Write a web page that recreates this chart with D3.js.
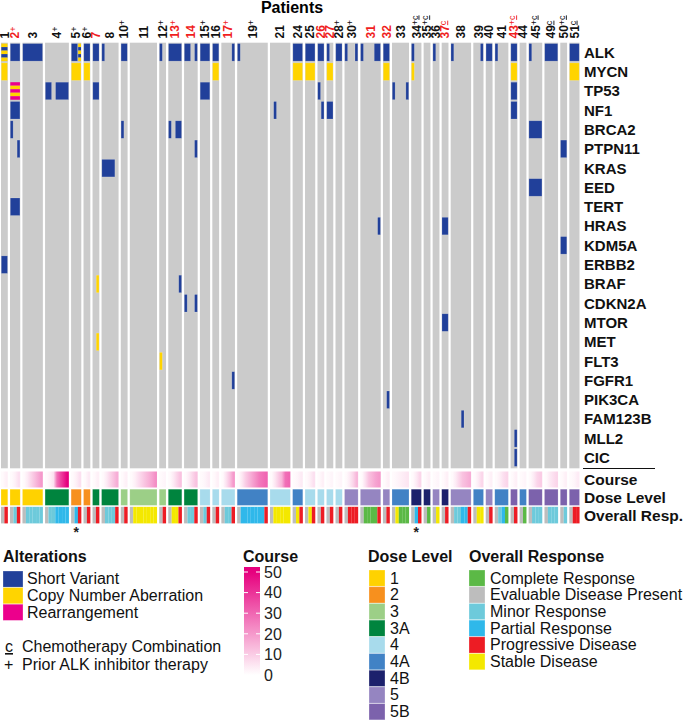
<!DOCTYPE html>
<html><head><meta charset="utf-8">
<script src="https://cdn.jsdelivr.net/npm/d3@7"></script>
<style>
body{margin:0;background:#fff;}
text{font-family:"Liberation Sans",Arial,Helvetica,sans-serif;}
</style>
</head><body>
<svg id="c" width="685" height="722"></svg>
<script>
// ---------------- DATA ----------------
const patients = ["1","2","3","4","5","6","7","8","10","11","12","13","14","15","16","17","19","21","24","25","26","27","28","30","31","32","33","34","35","36","37","38","39","40","41","43","44","45","49","50","51"];
const redLabels = ["2","7","13","14","17","26","27","31","32","37","43"];
const priorALK = ["2","4","5","6","10","12","13","15","17","19","28","30","34","35","43","45","50"];
const chemoCombo = ["34","35","37","43","45","49","50","51"];
const starred = ["5","34"];
// number of assessment slots per patient (column span)
const assessments = [2,3,6,7,3,2,2,5,2,8,2,4,4,3,2,4,9,6,3,3,2,2,2,4,6,2,5,3,2,2,2,6,3,2,4,2,2,4,4,2,3];
const genes = ["ALK","MYCN","TP53","NF1","BRCA2","PTPN11","KRAS","EED","TERT","HRAS","KDM5A","ERBB2","BRAF","CDKN2A","MTOR","MET","FLT3","FGFR1","PIK3CA","FAM123B","MLL2","CIC"];
// [gene, patient, fromSlot, toSlot, type]
const alterations = [
 ["ALK","1",0,2,"CNA+SV"],["ALK","2",0,3,"SV"],["ALK","3",0,6,"SV"],["ALK","5",0,2,"SV"],["ALK","5",2,3,"CNA+SV"],
 ["ALK","6",0,2,"SV"],["ALK","7",0,2,"SV"],["ALK","8",0,1,"SV"],["ALK","10",0,2,"SV"],["ALK","12",0,1,"SV"],
 ["ALK","13",0,4,"SV"],["ALK","14",0,2,"SV"],["ALK","14",3,4,"SV"],["ALK","15",0,3,"SV"],["ALK","16",0,2,"SV"],
 ["ALK","17",3,4,"SV"],["ALK","19",0,1,"SV"],["ALK","24",0,3,"SV"],["ALK","25",0,3,"SV"],["ALK","26",0,2,"SV"],
 ["ALK","27",0,1,"SV"],["ALK","28",0,2,"SV"],["ALK","30",0,1,"SV"],["ALK","30",3,4,"SV"],["ALK","31",0,1,"SV"],
 ["ALK","31",4,6,"SV"],["ALK","32",0,2,"SV"],["ALK","34",0,1,"SV"],["ALK","36",0,1,"SV"],["ALK","38",0,1,"SV"],
 ["ALK","39",2,3,"SV"],["ALK","40",0,2,"SV"],["ALK","41",0,1,"SV"],["ALK","43",0,2,"SV"],["ALK","45",0,1,"SV"],
 ["ALK","49",0,4,"SV"],["ALK","51",0,3,"SV"],
 ["MYCN","1",0,2,"CNA"],["MYCN","5",0,3,"CNA"],["MYCN","6",0,2,"CNA"],["MYCN","16",0,2,"CNA"],["MYCN","24",0,3,"CNA"],
 ["MYCN","25",0,3,"CNA"],["MYCN","27",0,2,"CNA"],["MYCN","32",0,2,"CNA"],["MYCN","34",0,1,"CNA"],["MYCN","43",0,2,"CNA"],
 ["MYCN","51",0,3,"CNA"],
 ["TP53","2",0,3,"RE+CNA"],["TP53","4",0,2,"SV"],["TP53","4",3,7,"SV"],["TP53","7",0,2,"SV"],["TP53","15",0,3,"SV"],
 ["TP53","26",0,1,"SV"],["TP53","33",0,1,"SV"],["TP53","33",4,5,"SV"],["TP53","43",0,2,"SV"],
 ["NF1","2",0,3,"SV"],["NF1","21",1,2,"SV"],["NF1","26",1,2,"SV"],["NF1","27",0,2,"SV"],["NF1","43",0,2,"SV"],
 ["BRCA2","2",0,1,"SV"],["BRCA2","10",0,1,"SV"],["BRCA2","13",0,1,"SV"],["BRCA2","13",2,4,"SV"],["BRCA2","45",0,4,"SV"],
 ["PTPN11","2",2,3,"SV"],["PTPN11","14",3,4,"SV"],["PTPN11","50",0,2,"SV"],
 ["KRAS","8",0,4,"SV"],["EED","45",0,4,"SV"],["TERT","2",0,3,"SV"],
 ["HRAS","31",5,6,"SV"],["HRAS","37",0,2,"SV"],["KDM5A","50",0,2,"SV"],["ERBB2","1",0,2,"SV"],
 ["BRAF","7",1,2,"CNA"],["BRAF","13",3,4,"SV"],["CDKN2A","14",0,1,"SV"],["CDKN2A","14",3,4,"SV"],
 ["MTOR","37",0,2,"SV"],["MET","7",1,2,"CNA"],["FLT3","12",0,1,"CNA"],["FGFR1","17",3,4,"SV"],
 ["PIK3CA","32",1,2,"SV"],["FAM123B","38",3,4,"SV"],["MLL2","43",1,2,"SV"],["CIC","43",1,2,"SV"]
];
// course number at each assessment slot
const courses = [
 [1,3],[1,3,6],[1,4,8,12,16,20],[1,3,6,28,36,43,50],[1,3,6],[1,4],[1,3],[1,4,8,12,16],[1,3],[1,3,6,9,12,15,18,22],
 [1,2],[1,4,8,12],[1,4,8,12],[1,2,4],[1,3],[1,6,12,20],[1,5,10,14,18,22,26,28,30],[1,5,10,15,28,30],
 [1,2,4],[1,3,6],[1,3],[1,2],[1,2],[1,4,8,14],[1,6,12,15,18,20],[1,3],[1,2,3,4,5],
 [1,4,8],[1,3],[1,2],[1,3],[1,4,8,12,14,16],[1,4,8],[1,3],[1,3,6,8],
 [1,3],[1,2],[1,4,8,10],[1,4,6,8],[1,3],[1,2,4]
];
const doseLevels = ["1","1","1","3A","2","2","3A","3A","3","3","3","3A","3A","4","4","4","4A","4","4A","4","4","4","4","5","5","5","4A","4B","4B","5","4B","5","4A","5","4A","5B","4A","5B","5B","5B","5B"];
// E evaluable, C complete, M minor, P partial, D progressive, S stable
const responses = ["ED","EMD","EMMMMM","EMMPPPP","EPD","ED","ED","EMMMD","ED","ESSSSSSS",
 "ED","ESSD","EMMD","EMD","ED","EMMD","EPPPPPPPD","ESSSSS",
 "ESD","ESD","ED","ED","ED","EDDD","ECCCCD","ED","ESCCC",
 "EPD","EC","ES","ED","EMMPPD","ESS","ED","EMPC",
 "ED","EC","EMMM","EMMM","EM","EDD"];
const altTypes = ["SV","CNA","RE"];
const altNames = ["Short Variant","Copy Number Aberration","Rearrangement"];
const doseNames = ["1","2","3","3A","4","4A","4B","5","5B"];
const respCodes = ["C","E","M","P","D","S"];
const respNames = ["Complete Response","Evaluable Disease Present","Minor Response","Partial Response","Progressive Disease","Stable Disease"];
const courseTicks = [0,10,20,30,40,50];

// ---------------- STYLE ----------------
const altColor = d3.scaleOrdinal().domain(altTypes).range(["#21409a","#ffd400","#ec008c"]);
const doseColor = d3.scaleOrdinal().domain(doseNames).range(["#ffd200","#f7901e","#9ccf87","#00843e","#a8dbec","#4182c5","#1c216c","#9585c1","#7c62ac"]);
const respColor = d3.scaleOrdinal().domain(respCodes).range(["#5bb946","#bdbdbd","#6dcadb","#2fb8ea","#ed1c24","#f4e800"]);
const courseColor = d3.scaleLinear().domain([0,50]).range(["#ffffff","#e6007e"]);
const GRAY="#cbcbcb";

const svg = d3.select("#c");
const defs = svg.append("defs");
const X0=1, X1=579.5, GAP=2.22;
const n = patients.length;
const totalUnits = d3.sum(assessments);
const unitScale = d3.scaleLinear().domain([0,totalUnits]).range([0, X1-X0-GAP*(n-1)]);
const cum = Array.from(d3.cumsum(assessments));
const starts = assessments.map((a,i)=> X0 + unitScale(cum[i]-a) + i*GAP);
const widths = assessments.map(a=>unitScale(a));
const pIndex = new Map(patients.map((p,i)=>[p,i]));
const yGene = d3.scaleBand().domain(genes).range([42.7, 467.3]);

// title
svg.append("text").attr("x",292).attr("y",13).attr("text-anchor","middle")
  .attr("font-size",16).attr("font-weight","bold").text("Patients");

// patient labels
patients.forEach((p,i)=>{
  const cx = starts[i] + widths[i]/2;
  const t = svg.append("text")
    .attr("transform",`translate(${cx},38.5) rotate(-90)`)
    .attr("dy","0.35em").attr("font-size",12).attr("font-weight","bold")
    .attr("fill", redLabels.includes(p) ? "#f01e1e" : "#111");
  t.append("tspan").text(p);
  const plus = priorALK.includes(p), chem = chemoCombo.includes(p);
  if (plus || chem) {
    const s = t.append("tspan").attr("font-size",9).attr("dy",-3).attr("font-weight","normal");
    if (plus) s.append("tspan").text("+");
    if (chem) s.append("tspan").attr("text-decoration","underline").text("c");
  }
});

// gray background columns
svg.append("g").selectAll("rect").data(patients).join("rect")
  .attr("x",(d,i)=>starts[i]).attr("y",42.7).attr("width",(d,i)=>widths[i])
  .attr("height",468.3-42.7).attr("fill",GRAY);

// alterations
const gAlt = svg.append("g");
alterations.forEach(([g,p,f,t,type])=>{
  const i = pIndex.get(p);
  const x = starts[i] + unitScale(f) + 0.3;
  const w = unitScale(t-f) - 0.6;
  const y = yGene(g) + 0.9, h = yGene.bandwidth() - 1.8;
  const parts = type.split("+");
  if (parts.length === 1) {
    gAlt.append("rect").attr("x",x).attr("y",y).attr("width",w).attr("height",h)
      .attr("fill",altColor(type)).attr("stroke","#ffffff").attr("stroke-opacity",0.25).attr("stroke-width",0.6);
  } else {
    const nb = 5, bh = h/nb;
    for (let k=0;k<nb;k++){
      gAlt.append("rect").attr("x",x).attr("y",y+k*bh).attr("width",w).attr("height",bh+0.05)
        .attr("fill",altColor(parts[k%2]));
    }
  }
});

// gene labels
svg.append("g").selectAll("text").data(genes).join("text")
  .attr("x",584).attr("y",d=>yGene(d)+yGene.bandwidth()/2).attr("dy","0.36em")
  .attr("font-size",15).attr("font-weight","bold").attr("fill","#111").text(d=>d);

svg.append("line").attr("x1",583).attr("x2",655).attr("y1",468.5).attr("y2",468.5)
  .attr("stroke","#111").attr("stroke-width",1);

// course row
const rowCourse = {y:471.5,h:16}, rowDose={y:489.2,h:16.2}, rowResp={y:506.8,h:16.6};
patients.forEach((p,i)=>{
  const c = courses[i], k = c.length;
  const gid = "cg"+i;
  const lg = defs.append("linearGradient").attr("id",gid).attr("x1",0).attr("x2",1).attr("y1",0).attr("y2",0);
  lg.append("stop").attr("offset",0).attr("stop-color",courseColor(c[0]));
  c.forEach((v,j)=> lg.append("stop").attr("offset",(j+0.5)/k).attr("stop-color",courseColor(v)));
  lg.append("stop").attr("offset",1).attr("stop-color",courseColor(c[k-1]));
  svg.append("rect").attr("x",starts[i]).attr("y",rowCourse.y).attr("width",widths[i]).attr("height",rowCourse.h)
    .attr("fill",`url(#${gid})`);
});
// dose row
svg.append("g").selectAll("rect").data(doseLevels).join("rect")
  .attr("x",(d,i)=>starts[i]).attr("y",rowDose.y).attr("width",(d,i)=>widths[i]).attr("height",rowDose.h)
  .attr("fill",d=>doseColor(d)).attr("stroke","#ffffff").attr("stroke-opacity",0.3).attr("stroke-width",0.6);
// response row
const gResp = svg.append("g");
responses.forEach((r,i)=>{
  r.split("").forEach((code,j)=>{
    gResp.append("rect").attr("x",starts[i]+unitScale(j)).attr("y",rowResp.y)
      .attr("width",unitScale(1)+0.05).attr("height",rowResp.h).attr("fill",respColor(code));
  });
});
// stars
starred.forEach(p=>{
  const i = pIndex.get(p);
  svg.append("text").attr("x",starts[i]+widths[i]/2).attr("y",537).attr("text-anchor","middle")
    .attr("font-size",14).attr("font-weight","bold").attr("fill","#222").text("*");
});
// row labels
[["Course",rowCourse],["Dose Level",rowDose],["Overall Resp.",rowResp]].forEach(([lab,r])=>{
  svg.append("text").attr("x",584).attr("y",r.y+r.h/2).attr("dy","0.36em")
    .attr("font-size",15.5).attr("font-weight","bold").attr("fill","#111").text(lab);
});

// ---------------- LEGENDS ----------------
function title(x,t){ svg.append("text").attr("x",x).attr("y",562).attr("font-size",16).attr("font-weight","bold").attr("fill","#111").text(t); }
// Alterations
title(3,"Alterations");
altTypes.forEach((t,i)=>{
  const y = 571 + i*16.6;
  svg.append("rect").attr("x",3).attr("y",y).attr("width",20).attr("height",16.2).attr("fill",altColor(t))
    .attr("stroke","#ffffff").attr("stroke-opacity",0.35).attr("stroke-width",0.8);
  svg.append("text").attr("x",27).attr("y",y+13.3).attr("font-size",16).attr("fill","#111").text(altNames[i]);
});
svg.append("text").attr("x",5).attr("y",652).attr("font-size",16).attr("fill","#111")
  .attr("text-decoration","underline").text("c");
svg.append("text").attr("x",22).attr("y",652).attr("font-size",16).attr("fill","#111").text("Chemotherapy Combination");
svg.append("text").attr("x",4).attr("y",670).attr("font-size",16).attr("fill","#111").text("+");
svg.append("text").attr("x",22).attr("y",670).attr("font-size",16).attr("fill","#111").text("Prior ALK inhibitor therapy");

// Course colorbar
title(243,"Course");
const cy = d3.scaleLinear().domain([0,50]).range([675,572]);
const cb = defs.append("linearGradient").attr("id","cbar").attr("gradientUnits","userSpaceOnUse")
  .attr("x1",0).attr("x2",0).attr("y1",cy(0)).attr("y2",cy(50));
d3.range(0,51,5).forEach(v=> cb.append("stop").attr("offset",v/50).attr("stop-color",courseColor(v)));
svg.append("rect").attr("x",244).attr("y",567).attr("width",16).attr("height",112).attr("fill","url(#cbar)");
courseTicks.forEach(v=>{
  const y = cy(v);
  svg.append("line").attr("x1",244).attr("x2",248).attr("y1",y).attr("y2",y).attr("stroke","#fff").attr("stroke-width",1);
  svg.append("line").attr("x1",256).attr("x2",260).attr("y1",y).attr("y2",y).attr("stroke","#fff").attr("stroke-width",1);
  svg.append("text").attr("x",264).attr("y",y).attr("dy","0.36em").attr("font-size",16).attr("fill","#222").text(v);
});

// Dose Level
title(368,"Dose Level");
doseNames.forEach((d,i)=>{
  const y = 570 + i*16.7;
  svg.append("rect").attr("x",369).attr("y",y).attr("width",16).attr("height",16.3).attr("fill",doseColor(d))
    .attr("stroke","#ffffff").attr("stroke-opacity",0.35).attr("stroke-width",0.8);
  svg.append("text").attr("x",390).attr("y",y+13.5).attr("font-size",16).attr("fill","#111").text(d);
});
// Overall Response
title(469,"Overall Response");
respCodes.forEach((c,i)=>{
  const y = 570 + i*16.7;
  svg.append("rect").attr("x",469).attr("y",y).attr("width",16).attr("height",16.3).attr("fill",respColor(c))
    .attr("stroke","#ffffff").attr("stroke-opacity",0.35).attr("stroke-width",0.8);
  svg.append("text").attr("x",490).attr("y",y+13.5).attr("font-size",16).attr("fill","#111").text(respNames[i]);
});
</script>
</body></html>
